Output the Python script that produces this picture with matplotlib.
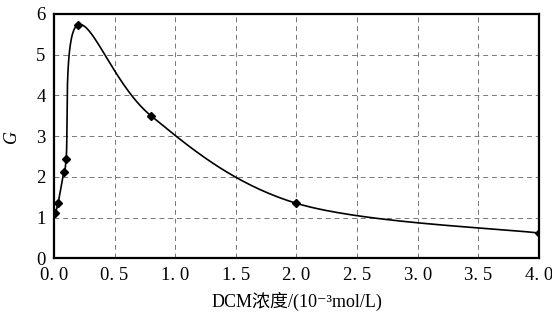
import matplotlib
matplotlib.use("Agg")
import matplotlib.pyplot as plt
import numpy as np

plt.rcParams["font.family"] = ["Liberation Serif", "Noto Sans CJK SC", "DejaVu Serif"]

conc = [0.01, 0.035, 0.08, 0.10, 0.195, 0.80, 2.00, 4.00]
g_val = [1.12, 1.37, 2.12, 2.43, 5.73, 3.50, 1.35, 0.62]
x_ticks = [0.0, 0.5, 1.0, 1.5, 2.0, 2.5, 3.0, 3.5, 4.0]
x_labels = ["0. 0", "0. 5", "1. 0", "1. 5", "2. 0", "2. 5", "3. 0", "3. 5", "4. 0"]
y_ticks = [0, 1, 2, 3, 4, 5, 6]


def excel_smooth(xs, ys, sx, sy, n=60):
    # Excel 风格平滑线：在屏幕比例下做 Catmull-Rom 贝塞尔
    p = np.column_stack([np.asarray(xs) * sx, np.asarray(ys) * sy])
    out = []
    for i in range(len(p) - 1):
        p0 = p[i - 1] if i > 0 else p[i]
        p3 = p[i + 2] if i + 2 < len(p) else p[i + 1]
        p1, p2 = p[i], p[i + 1]
        c1 = p1 + (p2 - p0) / 6
        c2 = p2 - (p3 - p1) / 6
        t = np.linspace(0, 1, n)[:, None]
        seg = ((1 - t) ** 3) * p1 + 3 * ((1 - t) ** 2) * t * c1 + 3 * (1 - t) * t ** 2 * c2 + t ** 3 * p2
        out.append(seg)
    pts = np.vstack(out)
    return pts[:, 0] / sx, pts[:, 1] / sy


fig = plt.figure(figsize=(5.52, 3.23), dpi=100)
ax = fig.add_axes([0.0978, 0.2003, 0.8786, 0.7564])

sx, sy = 121.2, 40.7
cx, cy = excel_smooth(conc, g_val, sx, sy)
ax.plot(cx, cy, color="black", lw=1.2)
ax.plot(conc, g_val, ls="none", marker="D", ms=4.5, color="black")

ax.set_xlim(0, 4.0)
ax.set_ylim(0, 6)
ax.set_xticks(x_ticks)
ax.set_xticklabels(x_labels)
ax.set_yticks(y_ticks)
ax.tick_params(length=0, labelsize=13.5, pad=6)
ax.grid(True, ls=(0, (5, 4)), color="#777777", lw=0.7)
for s in ax.spines.values():
    s.set_linewidth(1.6)

ax.set_xlabel("DCM浓度/(10\u207b\u00b3mol/L)", fontsize=13, labelpad=6)
ax.set_ylabel("G", fontsize=13, style="italic", labelpad=12)

fig.savefig("out.png", dpi=100)
